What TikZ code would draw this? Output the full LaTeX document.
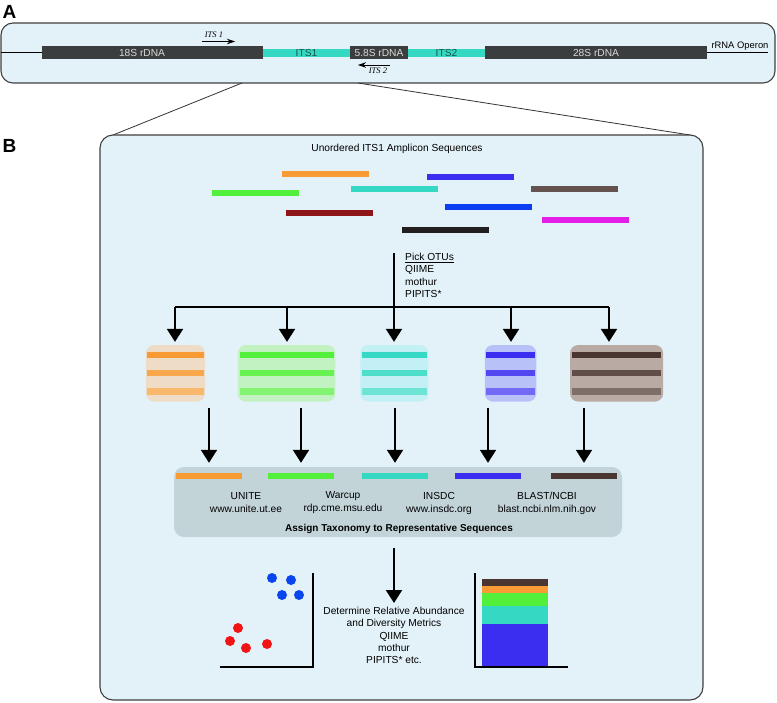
\documentclass[tikz,border=0pt]{standalone}
\usepackage{fontspec}
\setmainfont{Liberation Sans}
\newfontfamily\primerfont{Liberation Serif}
\usetikzlibrary{arrows.meta}
\definecolor{boxblue}{HTML}{E3F2F8}
\definecolor{dnagrey}{HTML}{3B3E3E}
\definecolor{itscyan}{HTML}{35D9C3}
\definecolor{taxgrey}{HTML}{C3D4D9}
\definecolor{rOrange}{HTML}{F89B35}
\definecolor{rGreen}{HTML}{52F03A}
\definecolor{rIndigo}{HTML}{3B2EF0}
\definecolor{rBrown}{HTML}{4A3530}
\definecolor{rRed}{HTML}{8E1518}
\definecolor{rBlue}{HTML}{0B3EF2}
\definecolor{rMagenta}{HTML}{E21EE8}
\definecolor{rBlack}{HTML}{231F20}
\definecolor{bgOrange}{HTML}{EEDCC6}
\definecolor{bgGreen}{HTML}{C2F2C2}
\definecolor{bgCyan}{HTML}{C2F0F5}
\definecolor{bgIndigo}{HTML}{B8C2F8}
\definecolor{bgBrown}{HTML}{B9ABA3}
\definecolor{dotBlue}{HTML}{0A46F0}
\definecolor{dotRed}{HTML}{F01414}

\begin{document}
\begin{tikzpicture}[x=1pt,y=-1pt,font=\fontsize{10.2}{12.3}\selectfont,
    flow/.style={line width=2, -{Triangle[length=13,width=16]}},
    primer/.style={line width=0.8, -{Stealth[length=8,width=5.5]}},
    seqbar/.style={minimum height=6.5, inner sep=0},
    stripe/.style={minimum height=6.5, inner sep=0},
    plotaxis/.style={line width=1.4}]
\useasboundingbox (0,0) rectangle (777,702);

\node[font=\bfseries\fontsize{19}{19}\selectfont, anchor=base west, inner sep=0] (labA) at (2.5,18.3) {A};
\node[font=\bfseries\fontsize{19}{19}\selectfont, anchor=base west, inner sep=0] (labB) at (2.5,152.3) {B};

\node[draw=black!75, line width=1.1, rounded corners=12, fill=boxblue, minimum width=774, minimum height=60, inner sep=0] (boxA) at (388,53) {};

\coordinate (op1) at (1,52.5);
\coordinate (op2) at (768,52.5);
\draw[line width=0.9] (op1) -- (op2);
\node[font=\fontsize{9.4}{11}\selectfont] (operon) at (740,46) {rRNA Operon};

\begin{scope}[every node/.style={inner sep=0, minimum height=13, fill=dnagrey, text=white!85!black}]
    \node[minimum width=221] (S18) at (152.5,52.5) {};
    \node[minimum width=58] (S58) at (379,52.5) {5.8S rDNA};
    \node[minimum width=222] (S28) at (596,52.5) {28S rDNA};
\end{scope}
\node[text=white!85!black] (T18) at (142,52.5) {18S rDNA};

\begin{scope}[every node/.style={inner sep=0, minimum height=8, fill=itscyan, text=black!60!itscyan}]
    \node[minimum width=87] (I1) at (306.5,52.5) {ITS1};
    \node[minimum width=77] (I2) at (446.5,52.5) {ITS2};
\end{scope}

\coordinate (P1a) at (202,41.5);
\coordinate (P1b) at (235,41.5);
\coordinate (P2a) at (390,65);
\coordinate (P2b) at (358,65);
\path (P1a) edge[primer] (P1b);
\path (P2a) edge[primer] (P2b);
\node[font=\primerfont\itshape\fontsize{8.5}{10}\selectfont] (its1) at (214,35) {ITS 1};
\node[font=\primerfont\itshape\fontsize{8.5}{10}\selectfont] (its2) at (378,71) {ITS 2};

\coordinate (Z1) at (242,83);
\coordinate (Z2) at (113,135);
\coordinate (Z3) at (358,83);
\coordinate (Z4) at (690,135);
\draw[black!80, line width=0.8] (Z1) -- (Z2);
\draw[black!80, line width=0.8] (Z3) -- (Z4);

\node[draw=black!75, line width=1.1, rounded corners=13, fill=boxblue, minimum width=603, minimum height=565, inner sep=0] (boxB) at (401.5,417.5) {};

\node (title) at (397,149) {Unordered ITS1 Amplicon Sequences};

\begin{scope}[every node/.style={seqbar, minimum width=87}]
    \node[fill=rOrange] (R1) at (325.5,174) {};
    \node[fill=rIndigo] (R2) at (470.5,177) {};
    \node[fill=rGreen] (R3) at (255.5,193) {};
    \node[fill=itscyan] (R4) at (394.5,189) {};
    \node[fill=rBrown!85!white] (R5) at (574.5,189) {};
    \node[fill=rRed] (R6) at (329,213) {};
    \node[fill=rBlue] (R7) at (488,207) {};
    \node[fill=rMagenta] (R8) at (585,220) {};
    \node[fill=rBlack] (R9) at (445,230) {};
\end{scope}

\node[anchor=north west, align=left, inner sep=0] (pick) at (405,253) {\underline{Pick OTUs}\\QIIME\\mothur\\PIPITS*};

\coordinate (F0) at (394,253);
\coordinate (F1) at (175,307);
\coordinate (F2) at (287,307);
\coordinate (F4) at (511,307);
\coordinate (F5) at (609,307);
\draw[line width=2] (F1) -- (F5);

\begin{scope}[every node/.style={rounded corners=8, inner sep=0, minimum height=56.5}]
    \node[fill=bgOrange, minimum width=59] (C1) at (175.5,373.3) {};
    \node[fill=bgGreen, minimum width=97.5] (C2) at (286.6,373.3) {};
    \node[fill=bgCyan, minimum width=68] (C3) at (394.3,373.3) {};
    \node[fill=bgIndigo, minimum width=51.5] (C4) at (510.5,373.3) {};
    \node[fill=bgBrown, minimum width=93] (C5) at (616.6,373.3) {};
\end{scope}

\begin{scope}[every node/.style={stripe}]
    \node[fill=rOrange, minimum width=57] (C1a) at (175.5,355) {};
    \node[fill=rOrange!88!white, minimum width=57] (C1b) at (175.5,373) {};
    \node[fill=rOrange!72!white, minimum width=57] (C1c) at (175.5,391.5) {};
    \node[fill=rGreen, minimum width=94] (C2a) at (286.6,355) {};
    \node[fill=rGreen!88!white, minimum width=94] (C2b) at (286.6,373) {};
    \node[fill=rGreen!72!white, minimum width=94] (C2c) at (286.6,391.5) {};
    \node[fill=itscyan, minimum width=65] (C3a) at (394.3,355) {};
    \node[fill=itscyan!88!white, minimum width=65] (C3b) at (394.3,373) {};
    \node[fill=itscyan!72!white, minimum width=65] (C3c) at (394.3,391.5) {};
    \node[fill=rIndigo, minimum width=49] (C4a) at (510.5,355) {};
    \node[fill=rIndigo!88!white, minimum width=49] (C4b) at (510.5,373) {};
    \node[fill=rIndigo!72!white, minimum width=49] (C4c) at (510.5,391.5) {};
    \node[fill=rBrown, minimum width=89.5] (C5a) at (616.6,355) {};
    \node[fill=rBrown!88!white, minimum width=89.5] (C5b) at (616.6,373) {};
    \node[fill=rBrown!72!white, minimum width=89.5] (C5c) at (616.6,391.5) {};
\end{scope}

\path (F1) edge[flow, shorten >=3] (F1 |- C1.north);
\path (F2) edge[flow, shorten >=3] (F2 |- C2.north);
\path (F0) edge[flow, shorten >=3] (F0 |- C3.north);
\path (F4) edge[flow, shorten >=3] (F4 |- C4.north);
\path (F5) edge[flow, shorten >=3] (F5 |- C5.north);

\node[fill=taxgrey, rounded corners=10, minimum width=448, minimum height=70, inner sep=0] (tax) at (398,502) {};

\begin{scope}[every node/.style={seqbar, minimum width=66}]
    \node[fill=rOrange] (T1) at (209,476) {};
    \node[fill=rGreen] (T2) at (301,476) {};
    \node[fill=itscyan] (T3) at (395,476) {};
    \node[fill=rIndigo] (T4) at (488,476) {};
    \node[fill=rBrown] (T5) at (584,476) {};
\end{scope}

\path (T1 |- C1.south) edge[flow, shorten <=6.5, shorten >=4] (T1 |- tax.north);
\path (T2 |- C2.south) edge[flow, shorten <=6.5, shorten >=4] (T2 |- tax.north);
\path (T3 |- C3.south) edge[flow, shorten <=6.5, shorten >=4] (T3 |- tax.north);
\path (T4 |- C4.south) edge[flow, shorten <=6.5, shorten >=4] (T4 |- tax.north);
\path (T5 |- C5.south) edge[flow, shorten <=6.5, shorten >=4] (T5 |- tax.north);

\begin{scope}[every node/.style={align=center, font=\fontsize{10.2}{13}\selectfont}]
    \node (D1) at (246,503) {UNITE\\www.unite.ut.ee};
    \node (D2) at (343,503) {Warcup\\rdp.cme.msu.edu};
    \node (D3) at (439,503) {INSDC\\www.insdc.org};
    \node (D4) at (547,503) {BLAST/NCBI\\blast.ncbi.nlm.nih.gov};
\end{scope}
\node[font=\bfseries\fontsize{10}{12}\selectfont] (assign) at (399,529) {Assign Taxonomy to Representative Sequences};

\node[anchor=north, align=center, inner sep=0] (det) at (394,607) {Determine Relative Abundance\\and Diversity Metrics\\QIIME\\mothur\\PIPITS* etc.};
\coordinate (M) at (394,537);
\path (M) edge[flow, shorten <=11, shorten >=4] (det.north);

\draw[plotaxis] (313,573) -- (313,667) -- (220,667);
\begin{scope}[every node/.style={circle, inner sep=0, minimum size=10}]
    \node[fill=dotBlue] (b1) at (272,578) {};
    \node[fill=dotBlue] (b2) at (291,580) {};
    \node[fill=dotBlue] (b3) at (282,595) {};
    \node[fill=dotBlue] (b4) at (299,595) {};
    \node[fill=dotRed] (r1) at (238,628) {};
    \node[fill=dotRed] (r2) at (230,641) {};
    \node[fill=dotRed] (r3) at (246,648) {};
    \node[fill=dotRed] (r4) at (267,644) {};
\end{scope}

\fill[rIndigo] (482,624) rectangle (548,667);
\fill[itscyan] (482,606) rectangle (548,624);
\fill[rGreen] (482,593) rectangle (548,606);
\fill[rOrange] (482,586) rectangle (548,593);
\fill[rBrown] (482,579) rectangle (548,586);
\draw[plotaxis] (475,573) -- (475,667) -- (568,667);
\end{tikzpicture}
\end{document}
